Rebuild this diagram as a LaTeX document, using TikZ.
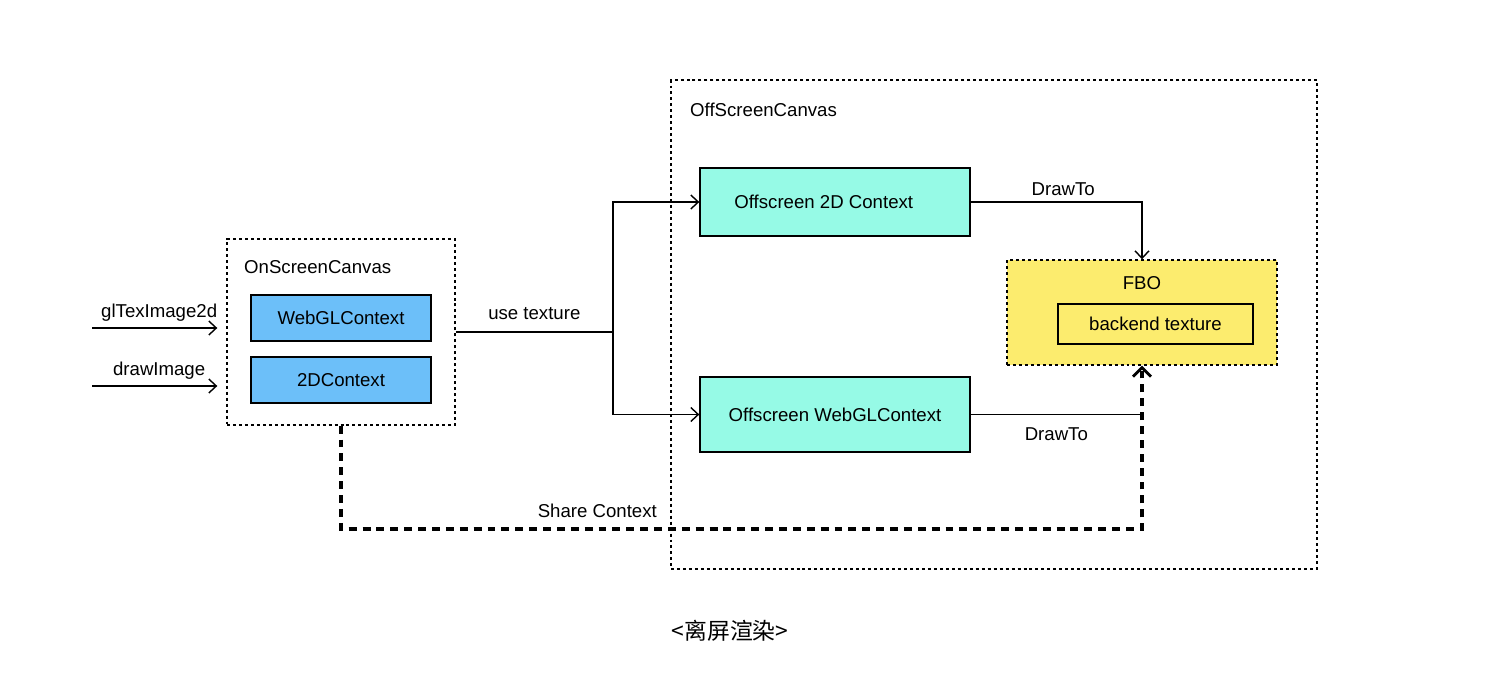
\documentclass[tikz,border=0pt]{standalone}
\usepackage{fontspec}
\setmainfont{Liberation Sans}
\newfontfamily\cjk{Noto Sans CJK SC}
\usetikzlibrary{arrows.meta,positioning}
\definecolor{ctxblue}{RGB}{108,191,249}
\definecolor{offcyan}{RGB}{150,250,230}
\definecolor{fboyellow}{RGB}{252,236,110}

\begin{document}
\begin{tikzpicture}[x=0.02cm,y=-0.02cm,font=\fontsize{10.6}{12.5}\selectfont,
      canvas/.style={draw,line width=0.8pt,dash pattern=on 1.7pt off 1.7pt,inner sep=0pt},
      ctx/.style={draw,line width=0.8pt,fill=ctxblue,minimum width=3.6cm,minimum height=0.92cm},
      offctx/.style={draw,line width=0.8pt,fill=offcyan,minimum width=5.4cm},
      arr/.style={-{Straight Barb[length=1.5mm,width=2.8mm]},line width=0.8pt},
      line/.style={line width=0.8pt},
      share/.style={line width=2pt,dash pattern=on 4.5pt off 3.4pt,
        -{Straight Barb[length=1.8mm,width=3.6mm,line width=1.6pt]}}]
    \useasboundingbox (0,0) rectangle (1492,687);
    % containers
    \node[canvas,minimum width=12.92cm,minimum height=9.78cm] (offscreen) at (994,324.5) {};
    \node[anchor=west] (offlabel) at (684,110) {OffScreenCanvas};
    \node[canvas,minimum width=4.56cm,minimum height=3.72cm] (onscreen) at (341,332) {};
    \node[anchor=west] (onlabel) at (238,267) {OnScreenCanvas};
    % on screen contexts
    \node[ctx] (webgl) at (341,318) {WebGLContext};
    \node[ctx] (ctx2d) at (341,380) {2DContext};
    % off screen contexts
    \node[offctx,minimum height=1.36cm] (off2d) at (835,202) {\hspace*{-0.45cm}Offscreen 2D Context};
    \node[offctx,minimum height=1.5cm] (offgl) at (835,414.5) {Offscreen WebGLContext};
    \node[canvas,fill=fboyellow,minimum width=5.4cm,minimum height=2.1cm] (fbo) at (1142,312.5) {};
    \node (fbolabel) at (1142,283) {FBO};
    \node[draw,line width=0.8pt,minimum width=3.9cm,minimum height=0.8cm] (backend) at (1155.5,324) {backend texture};
    % inputs
    \coordinate (glin) at (92,328);
    \coordinate (drawin) at (92,386);
    \draw[arr,shorten >=0.18cm] (glin) -- (glin -| onscreen.west) node[above,midway] {glTexImage2d};
    \draw[arr,shorten >=0.18cm] (drawin) -- (drawin -| onscreen.west) node[above,midway] {drawImage};
    % use texture
    \coordinate (split) at (613,332);
    \draw[line] (onscreen.east) -- (split) node[above=3pt,pos=0.5] {use texture};
    \draw[arr] (split) |- (off2d.west);
    \draw[arr] (split) |- (offgl.west);
    % draw to fbo
    \draw[arr] (off2d.east) -| (fbo.north) node[above,pos=0.27] {DrawTo};
    \draw[line] (offgl.east) -- (offgl.east -| fbo.south) node[below=4pt,midway] {DrawTo};
    % share context
    \coordinate (sharebase) at (0,529);
    \draw[share] (onscreen.south) |- (sharebase -| fbo.south) node[above=2pt,pos=0.66] {Share Context} -- (fbo.south);
    % caption
    \node (caption) at (730,631) {\cjk\fontsize{13}{15}\selectfont <离屏渲染>};
\end{tikzpicture}
\end{document}
